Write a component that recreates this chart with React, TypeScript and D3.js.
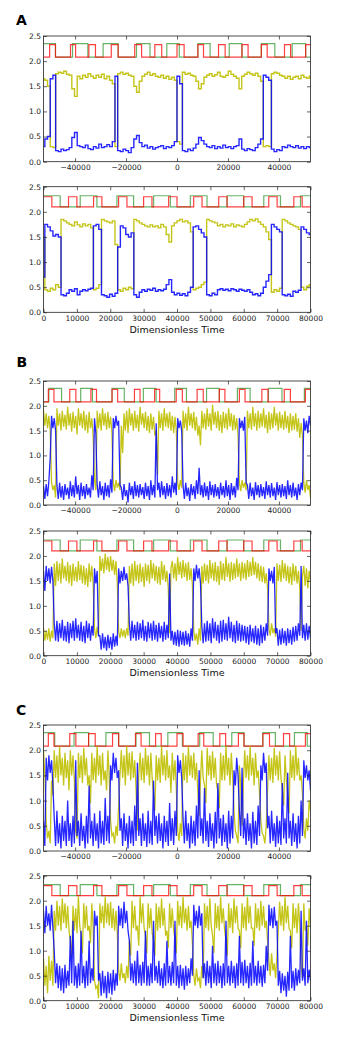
import React, { useEffect, useRef } from 'react'
import * as d3 from 'd3'

const W = 346
const H = 1037
const LEFT = 43.5
const RIGHT = 310.5

const yTicks = [0, 0.5, 1, 1.5, 2, 2.5]
const topTicks = [-40000, -20000, 0, 20000, 40000]
const bottomTicks = [0, 10000, 20000, 30000, 40000, 50000, 60000, 70000, 80000]
const topDomain = [-52400, 52400]
const bottomDomain = [0, 80000]

// input pulses, [start, end] of each high period
const aTopRed = [[-50000, -47700], [-41800, -39800], [-34600, -32000], [-25800, -23100], [-16600, -13900], [-8700, -6000], [0, 2800], [8200, 10400], [16300, 18900], [25500, 27900], [33100, 35400], [42200, 44600], [50500, 52400]]
const aTopGreen = [[-52400, -47700], [-41000, -35000], [-29000, -23100], [-15900, -10600], [-4000, 900], [8200, 13000], [20500, 25500], [33100, 38400], [45200, 50500]]
const bTopRed = [[-50500, -48300], [-42100, -39700], [-33800, -31600], [-25500, -23300], [-16700, -14500], [-8800, -6800], [-300, 2100], [7900, 10300], [16600, 18800], [24500, 26700], [33300, 35700], [42100, 44500], [50400, 52400]]
const bTopGreen = [[-50300, -45300], [-37800, -33200], [-25500, -20700], [-13200, -8200], [-900, 3700], [11600, 16600], [23700, 28700], [35900, 41200], [50000, 52400]]
const cTopRed = [[-50500, -48300], [-42100, -39700], [-34700, -32100], [-25300, -22900], [-16300, -14100], [-8400, -6200], [0, 2400], [8300, 10500], [16800, 19100], [24100, 26300], [33700, 36300], [41800, 44200], [50400, 52400]]
const cTopGreen = [[-52400, -48000], [-40400, -34700], [-27900, -22900], [-16100, -10800], [-3600, 2100], [8900, 14200], [21500, 26300], [33700, 38600], [46100, 51100]]
const bottomRed = [[0, 2500], [7500, 10000], [15000, 17500], [22500, 25000], [30000, 32500], [37500, 40000], [45000, 47500], [52500, 55000], [60000, 62500], [67500, 70000], [75000, 77500]]
const bottomGreen = [[0, 5000], [11000, 16000], [22000, 27000], [33000, 38000], [44000, 49000], [55000, 60000], [66000, 71000], [77000, 80000]]

// sampled traces, evenly spaced over each panel's time range
const aTopBlue = [
  .30, .45, .50, 1.65, 1.72, .22, .20, .25, .22, .24,
  .28, .48, .58, .32, .30, .28, .33, .26, .24, .30,
  .27, .35, .28, .30, .34, .30, .40, 1.70, .22, .20,
  .25, .22, .18, .28, .45, .52, .38, .30, .33, .27,
  .30, .25, .28, .30, .32, .26, .30, .28, .32, .40,
  1.70, 1.55, .22, .20, .25, .22, .27, .35, .48, .42,
  .35, .30, .28, .32, .26, .30, .27, .33, .28, .30,
  .26, .30, .32, .45, .25, .22, .26, .24, .22, .28,
  .35, .45, 1.72, 1.68, 1.62, .25, .20, .24, .22, .30,
  .28, .33, .30, .28, .32, .27, .30, .26, .30, .28,
]
const aTopYellow = [
  1.65, 1.62, 1.50, .30, .28, 1.75, 1.78, 1.76, 1.80, 1.74,
  1.72, 1.45, 1.30, 1.70, 1.65, 1.72, 1.68, 1.75, 1.70, 1.66,
  1.72, 1.68, 1.74, 1.65, 1.70, 1.62, 1.55, .30, 1.75, 1.78,
  1.74, 1.76, 1.72, 1.70, 1.50, 1.38, 1.60, 1.70, 1.74, 1.78,
  1.72, 1.75, 1.70, 1.68, 1.72, 1.66, 1.70, 1.64, 1.68, 1.62,
  .40, .35, 1.78, 1.74, 1.76, 1.72, 1.70, 1.60, 1.45, 1.55,
  1.68, 1.72, 1.75, 1.70, 1.73, 1.78, 1.70, 1.68, 1.72, 1.80,
  1.74, 1.70, 1.66, 1.45, 1.70, 1.74, 1.78, 1.75, 1.72, 1.76,
  1.70, 1.60, .30, .32, .30, 1.75, 1.78, 1.76, 1.72, 1.70,
  1.66, 1.70, 1.64, 1.68, 1.70, 1.65, 1.72, 1.68, 1.66, 1.70,
]
const aBottomBlue = [
  .70, 1.75, 1.70, 1.62, 1.52, 1.55, 1.50, .35, .33, .38,
  .45, .42, .47, .35, .42, .45, .43, .46, .48, 1.72,
  1.75, 1.65, .35, .33, .30, .36, .32, .38, 1.30, 1.72,
  1.68, 1.55, 1.50, 1.58, .35, .30, .40, .45, .42, .46,
  .44, .48, .42, .45, .43, .46, .55, .65, .40, .35,
  .38, .34, .37, .33, .40, .50, 1.70, 1.72, 1.65, 1.58,
  1.50, .35, .33, .38, .35, .45, .47, .44, .46, .43,
  .47, .45, .42, .46, .44, .42, .45, .40, .35, .37,
  .33, .38, .50, .62, .75, 1.75, 1.70, 1.65, 1.60, .35,
  .33, .36, .32, .42, .40, .44, 1.70, 1.65, 1.58, 1.55,
]
const aBottomYellow = [
  1.50, .45, .42, .48, .45, .55, .50, 1.85, 1.82, 1.78,
  1.75, 1.72, 1.80, 1.74, 1.70, 1.76, 1.72, 1.75, 1.68, .45,
  .48, .55, 1.85, 1.82, 1.80, 1.78, 1.82, 1.35, .45, .42,
  .48, .45, .50, .47, 1.85, 1.82, 1.78, 1.75, 1.72, 1.70,
  1.74, 1.70, 1.72, 1.68, 1.75, 1.70, 1.55, 1.40, 1.72, 1.78,
  1.82, 1.85, 1.80, 1.82, 1.78, 1.60, .45, .48, .50, .55,
  .60, 1.85, 1.82, 1.80, 1.78, 1.72, 1.75, 1.70, 1.74, 1.72,
  1.76, 1.70, 1.74, 1.72, 1.70, 1.75, 1.80, 1.85, 1.82, 1.86,
  1.80, 1.75, 1.70, 1.60, 1.45, .40, .45, .42, .48, 1.85,
  1.82, 1.78, 1.75, 1.72, 1.70, 1.65, .50, .45, .52, .55,
]
const bTopBlue = [
  .38, .12, .42, .18, .48, .95, 1.80, 1.55, 1.75, 1.50, .40, .12, .45, .15, .38, .10, .42, .20, .35, .12,
  .48, .18, .40, .15, .58, .22, .40, .10, .45, .18, .38, .12, .42, .20, .35, .15, .60, .30, 1.75, 1.45,
  .40, .15, .48, .20, .38, .10, .45, .18, .40, .15, .52, .25, 1.75, 1.55, 1.80, 1.60, 1.70, .40, .35, .10,
  .42, .18, .30, .05, .45, .20, .38, .12, .48, .18, .40, .15, .42, .20, .36, .12, .45, .18, .38, .10,
  .50, .20, .40, .15, 1.65, .30, .45, .15, .48, .20, .38, .12, .44, .18, .40, .15, .58, .25, .45, .20,
  1.75, 1.55, 1.70, 1.50, .40, .12, .45, .18, .35, .08, .42, .20, .38, .12, .50, .22, .75, .20, .40, .15,
  .45, .18, .38, .10, .48, .20, .40, .15, .42, .18, .36, .12, .45, .20, .38, .15, .50, .18, .40, .10,
  .44, .20, .38, .15, .55, .30, 1.75, 1.55, 1.70, 1.50, 1.78, .45, .40, .12, .45, .18, .35, .10, .46, .20,
  .40, .15, .42, .18, .36, .12, .48, .20, .40, .15, .44, .18, .35, .10, .46, .20, .40, .15, .42, .18,
  .38, .12, .50, .20, .40, .15, .45, .18, .35, .10, .42, .20, .45, .30, 1.75, 1.50, 1.70, 1.45, 1.80, 1.60,
]
const bTopYellow = [
  1.90, 1.60, 1.85, 1.55, 1.80, 1.50, .45, .30, .40, .15, 1.95, 1.60, 1.85, 1.50, 1.90, 1.58, 1.82, 1.52, 1.98, 1.60,
  1.85, 1.48, 1.88, 1.55, 1.80, 1.42, 1.95, 1.60, 1.85, 1.55, 1.90, 1.50, 1.82, 1.45, 1.88, 1.55, 1.75, 1.38, .50, .30,
  1.90, 1.55, 1.85, 1.50, 1.95, 1.60, 1.85, 1.52, 1.88, 1.55, 1.78, 1.45, .45, .28, .50, .35, .45, .30, 1.60, 1.05,
  1.85, 1.50, 1.90, 1.45, 1.95, 1.60, 1.85, 1.50, 1.90, 1.55, 1.82, 1.48, 1.98, 1.62, 1.85, 1.55, 1.88, 1.50, 1.80, 1.45,
  1.85, 1.52, 1.78, 1.40, 1.50, .60, 1.90, 1.55, 1.85, 1.50, 1.95, 1.58, 1.85, 1.55, 1.88, 1.50, 1.80, 1.45, 1.78, 1.50,
  .45, .30, .50, .35, 1.90, 1.55, 1.85, 1.50, 1.98, 1.60, 1.85, 1.55, 1.88, 1.50, 1.78, 1.40, 1.60, 1.20, 1.90, 1.55,
  1.85, 1.52, 1.95, 1.58, 1.85, 1.50, 2.02, 1.62, 1.88, 1.55, 1.90, 1.50, 1.82, 1.45, 1.88, 1.55, 1.85, 1.52, 1.95, 1.58,
  1.85, 1.50, 1.82, 1.52, 1.75, 1.40, .45, .28, .50, .35, .45, .30, 1.90, 1.55, 1.85, 1.52, 1.98, 1.58, 1.85, 1.50,
  1.90, 1.55, 1.85, 1.58, 1.95, 1.55, 1.82, 1.45, 1.88, 1.52, 1.85, 1.55, 1.98, 1.60, 1.85, 1.50, 1.88, 1.55, 1.82, 1.52,
  1.90, 1.55, 1.80, 1.45, 1.85, 1.50, 1.80, 1.52, 1.85, 1.48, 1.75, 1.35, 1.65, 1.40, .45, .25, .50, .30, .40, .15,
]
const bBottomBlue = [
  1.70, 1.30, 1.80, 1.50, 1.75, 1.45, 1.78, 1.50, .65, .30, .70, .28, .65, .35, .72, .30, .60, .28, .68, .25,
  .65, .35, .70, .30, .75, .35, .62, .30, .68, .28, .60, .25, .70, .35, .65, .30, .60, .40, 1.75, 1.45,
  1.70, .40, .40, .12, .45, .15, .38, .10, .42, .15, .38, .12, .45, .18, .40, .20, 1.75, 1.45, 1.70, 1.50,
  1.78, 1.52, 1.65, 1.40, .65, .30, .70, .35, .62, .30, .68, .32, .65, .35, .72, .30, .60, .28, .68, .35,
  .65, .30, .70, .32, .62, .28, .66, .35, .60, .28, .68, .32, .62, .35, 1.65, .30, .50, .22, .48, .20,
  .52, .18, .50, .22, .48, .20, .50, .22, .45, .18, .55, .30, 1.75, 1.50, 1.82, 1.55, 1.75, 1.45, .60, .25,
  .65, .28, .70, .30, .65, .25, .75, .35, .68, .30, .62, .25, .70, .28, .72, .32, .65, .30, .78, .35,
  .68, .28, .62, .25, .70, .30, .65, .28, .62, .30, .60, .25, .58, .22, .62, .28, .55, .25, .60, .22,
  .55, .20, .62, .25, .58, .30, .65, .40, 1.75, 1.50, 1.70, 1.45, 1.78, .45, .55, .20, .52, .22, .55, .25,
  .50, .20, .55, .25, .52, .22, .58, .28, .60, .30, .65, .40, 1.80, .35, .62, .30, .65, .32, .60, .35,
]
const bBottomYellow = [
  .55, .30, .50, .32, .55, .28, .50, .35, 1.85, 1.40, 1.90, 1.50, 1.85, 1.45, 1.95, 1.55, 1.80, 1.50, 1.88, 1.45,
  1.82, 1.40, 1.85, 1.50, 1.78, 1.48, 1.90, 1.52, 1.82, 1.45, 1.80, 1.42, 1.75, 1.38, 1.85, 1.48, 1.80, 1.45, .55, .35,
  .58, .40, 2.00, 1.70, 1.95, 1.65, 2.05, 1.72, 1.98, 1.68, 2.00, 1.70, 1.92, 1.62, 1.90, 1.45, .50, .35, .55, .38,
  .52, .35, .55, .40, 1.80, 1.45, 1.85, 1.40, 1.90, 1.50, 1.82, 1.45, 1.85, 1.48, 1.78, 1.38, 1.85, 1.50, 1.82, 1.45,
  1.92, 1.55, 1.85, 1.50, 1.80, 1.45, 1.78, 1.42, 1.90, 1.52, 1.82, 1.48, 1.70, 1.35, .45, 1.75, 1.90, 1.55, 1.85, 1.50,
  1.98, 1.62, 1.88, 1.55, 1.92, 1.58, 1.85, 1.50, 1.88, 1.52, 1.75, 1.40, .50, .30, .45, .22, .55, .30, 1.80, 1.45,
  1.85, 1.50, 1.82, 1.45, 1.92, 1.55, 1.85, 1.50, 1.88, 1.48, 1.80, 1.42, 1.90, 1.52, 1.85, 1.50, 1.98, 1.58, 1.85, 1.48,
  1.88, 1.52, 1.85, 1.55, 1.95, 1.58, 1.85, 1.50, 1.88, 1.55, 1.85, 1.52, 1.92, 1.58, 1.88, 1.60, 1.98, 1.62, 1.88, 1.55,
  1.85, 1.50, 1.80, 1.48, 1.78, 1.45, 1.65, 1.35, .55, .40, .65, .45, .55, .38, 1.85, 1.50, 1.82, 1.48, 1.92, 1.55,
  1.85, 1.50, 1.80, 1.45, 1.78, 1.42, 1.85, 1.50, 1.80, 1.45, 1.70, 1.35, .50, 1.60, 1.80, 1.40, 1.75, 1.35, 1.70, 1.50,
]
const cTopBlue = [
  .60, .10, 1.85, 1.40, 1.90, 1.55, 1.80, 1.30, .65, .10, .80, .15, .55, .05, .70, .20, .60, .10, 1.00, .20,
  .55, .08, .70, .15, 1.80, .30, .60, .10, .75, .20, .50, .05, .70, .15, 1.30, .25, .60, .10, .75, .20,
  .55, .05, .80, .15, .60, .12, 1.05, .20, .70, .15, 1.70, 1.40, 1.95, 1.55, 1.85, 1.45, 1.60, .40, .65, .10,
  .75, .20, .55, .05, .70, .15, .60, .10, .90, .20, 1.75, .30, .65, .10, .75, .20, .55, .08, .80, .15,
  .60, .12, 1.40, .30, .70, .15, .75, .20, .55, .05, .70, .18, .60, .10, .95, .20, .65, .12, .80, .30,
  1.90, 1.55, 1.80, 1.45, .65, .15, .80, .20, .55, .05, .70, .15, .60, .10, .90, .25, 1.60, .30, .65, .15,
  1.25, .20, .60, .08, .75, .20, .55, .05, .78, .15, 1.35, .25, .65, .10, .72, .18, .55, .05, .80, .15,
  .70, .25, 1.60, 1.30, 1.85, 1.50, .80, .30, 1.65, .25, .65, .12, .75, .20, .55, .05, .78, .15, .60, .12,
  .90, .30, 1.70, 1.40, 1.95, 1.55, 1.75, .45, .70, .15, .80, .20, .55, .08, .70, .15, .60, .12, 1.35, .25,
  .65, .15, 1.55, .25, .60, .10, .75, .18, .55, .05, .70, .15, 1.00, .30, 1.80, 1.45, 1.70, 1.40, 1.60, 1.20,
]
const cTopYellow = [
  2.00, 1.50, .60, .25, .40, .15, 1.40, 1.10, 2.00, 1.45, 1.90, 1.35, 2.08, 1.50, 1.85, 1.30, 1.95, 1.45, 1.80, 1.20,
  2.00, 1.50, 1.90, 1.40, .40, .25, 1.95, 1.45, 1.90, 1.35, 2.05, 1.50, 1.85, 1.30, 1.50, .95, 1.95, 1.40, 1.85, 1.35,
  2.08, 1.50, 1.90, 1.30, 1.95, 1.40, 1.60, 1.20, 2.00, 1.45, .60, .30, .35, .15, .50, .30, .90, 1.50, 2.00, 1.45,
  1.90, 1.30, 2.08, 1.50, 1.95, 1.40, 1.98, 1.45, 1.80, 1.20, .40, 1.50, 1.95, 1.40, 1.85, 1.35, 2.05, 1.50, 1.90, 1.30,
  1.95, 1.45, 1.10, .80, 1.90, 1.40, 1.85, 1.35, 2.08, 1.50, 1.90, 1.40, 2.00, 1.45, 1.70, 1.15, 1.95, 1.40, 1.80, 1.25,
  .40, .20, .55, .30, 1.95, 1.40, 1.90, 1.35, 2.08, 1.50, 1.90, 1.45, 1.95, 1.40, 1.75, 1.20, .70, 1.40, 2.00, 1.45,
  1.30, .95, 2.05, 1.50, 1.90, 1.40, 1.98, 1.45, 1.85, 1.30, 1.20, .85, 1.95, 1.40, 1.90, 1.40, 2.08, 1.50, 1.85, 1.30,
  1.95, 1.45, .80, .40, .30, .15, 1.70, 1.30, .50, 1.40, 2.00, 1.45, 1.90, 1.40, 2.08, 1.50, 1.85, 1.30, 1.95, 1.45,
  1.60, 1.15, .60, .35, .30, .15, .50, 1.20, 1.90, 1.40, 1.85, 1.35, 2.05, 1.50, 1.90, 1.40, 1.98, 1.45, 1.20, .90,
  1.90, 1.40, 1.10, .75, 2.00, 1.45, 1.90, 1.40, 2.08, 1.50, 1.85, 1.40, 1.50, 1.15, .45, .25, .65, .40, 1.00, .80,
]
const cBottomBlue = [
  1.80, 1.35, 1.90, 1.50, 1.75, 1.40, 1.92, 1.45, 1.00, .35, .75, .25, .70, .20, .65, .15, .72, .25, .60, .30,
  1.30, .35, 1.60, .30, .70, .25, .75, .30, 1.40, .35, .70, .25, .80, .30, 1.20, .35, .65, .40, 1.80, 1.50,
  1.70, .40, .55, .10, .60, .15, .50, .05, .58, .15, .55, .12, .62, .20, .55, .30, 1.90, 1.50, 1.85, 1.45,
  1.98, 1.55, 1.80, 1.40, 1.20, .40, .75, .35, .80, .30, 1.00, .35, .72, .30, .78, .35, 1.40, .30, .70, .30,
  .75, .35, 1.60, .40, .70, .35, .80, .30, .65, .25, .75, .30, 1.20, .35, .70, .30, .78, .35, 1.60, .30,
  .70, .25, .72, .30, .65, .22, .70, .30, .65, .35, .85, .50, 1.92, 1.50, 1.80, 1.45, 1.90, 1.50, 1.75, .45,
  .75, .30, .80, .35, .70, .25, 1.10, .35, .75, .30, .80, .35, .70, .25, .75, .30, 1.60, .35, .70, .30,
  .80, .35, .70, .25, .75, .30, 1.30, .35, .78, .30, .82, .35, .70, .25, .76, .30, 1.20, .35, .70, .30,
  .80, .35, .70, .28, .72, .35, 1.10, .60, 1.92, 1.50, 1.85, 1.45, 1.88, 1.50, 1.60, .30, .60, .15, .55, .20,
  .50, .08, .58, .20, 1.30, .25, .60, .20, .65, .30, .62, .35, 1.80, .40, .65, .30, 1.60, .35, .62, .40,
]
const cBottomYellow = [
  .85, .30, .70, .15, .90, .40, .80, .30, 1.80, 1.40, 2.00, 1.50, 1.90, 1.40, 2.05, 1.55, 1.95, 1.45, 1.90, 1.40,
  1.20, .85, 1.90, 1.40, 1.85, 1.35, 2.08, 1.50, 1.30, .95, 1.95, 1.45, 1.90, 1.40, 1.50, 1.15, 1.95, 1.45, .40, .25,
  .30, .05, 1.95, 1.55, 1.90, 1.45, 2.08, 1.55, 1.95, 1.50, 1.98, 1.45, 1.85, 1.40, 1.80, 1.35, .60, .40, .75, .45,
  .55, .35, .70, .45, 1.20, .90, 2.00, 1.45, 1.90, 1.40, 1.50, 1.10, 2.08, 1.55, 1.95, 1.45, 1.30, .95, 1.95, 1.45,
  1.85, 1.35, 1.20, .90, 1.95, 1.40, 1.88, 1.45, 2.05, 1.50, 1.85, 1.30, 1.40, 1.05, 1.95, 1.45, 1.85, 1.40, 1.25, .95,
  2.00, 1.50, 1.90, 1.45, 2.08, 1.55, 1.85, 1.40, 1.90, 1.45, 1.60, 1.15, .50, .30, .65, .40, .45, .25, .70, .45,
  1.95, 1.45, 1.90, 1.40, 2.05, 1.50, 1.30, .95, 1.95, 1.45, 1.90, 1.40, 2.08, 1.55, 1.85, 1.40, 1.20, .90, 1.95, 1.45,
  1.85, 1.35, 2.05, 1.55, 1.90, 1.45, 1.40, 1.05, 1.95, 1.45, 1.88, 1.40, 2.08, 1.55, 1.90, 1.45, 1.45, 1.10, 1.95, 1.45,
  1.85, 1.40, 2.00, 1.50, 1.90, 1.45, 1.60, 1.20, .80, .50, .95, .60, .75, .45, .90, 1.40, 1.98, 1.50, 1.90, 1.40,
  2.08, 1.55, 1.90, 1.45, 1.40, 1.05, 1.95, 1.45, 1.85, 1.35, 1.95, 1.50, .70, .45, 1.95, 1.40, 1.50, 1.10, 1.85, 1.50,
]

const topLevels = [2.08, 2.34]
const bottomLevels = [2.1, 2.31]

function stepPoints(intervals, domain, lo, hi) {
  const pts = []
  const startsHigh = intervals.length > 0 && intervals[0][0] <= domain[0]
  pts.push([domain[0], startsHigh ? hi : lo])
  intervals.forEach(([s, e]) => {
    if (s > domain[0]) pts.push([s, hi])
    if (e < domain[1]) pts.push([e, lo])
  })
  pts.push([domain[1], pts[pts.length - 1][1]])
  return pts
}

function Panel({ y0, y1, domain, ticks, blue, yellow, red, green, levels, xlabel, id, stepped }) {
  const ref = useRef(null)

  useEffect(() => {
    const g = d3.select(ref.current)
    g.selectAll('*').remove()

    const x = d3.scaleLinear().domain(domain).range([LEFT, RIGHT])
    const y = d3.scaleLinear().domain([0, 2.5]).range([y1, y0])

    g.append('clipPath')
      .attr('id', id)
      .append('rect')
      .attr('x', LEFT)
      .attr('y', y0)
      .attr('width', RIGHT - LEFT)
      .attr('height', y1 - y0)

    const plot = g.append('g').attr('clip-path', `url(#${id})`)

    const timed = (arr) =>
      arr.map((v, i) => [domain[0] + (i * (domain[1] - domain[0])) / (arr.length - 1), v])

    // the quieter panels jump between states, the noisy ones are dense enough as plain lines
    const line = d3.line().x((d) => x(d[0])).y((d) => y(d[1])).curve(stepped ? d3.curveStep : d3.curveLinear)
    const step = d3.line().x((d) => x(d[0])).y((d) => y(d[1])).curve(d3.curveStepAfter)
    const traceWidth = stepped ? 1.4 : 1.3

    plot.append('path')
      .attr('d', step(stepPoints(green, domain, levels[0], levels[1] + 0.01)))
      .attr('fill', 'none')
      .attr('stroke', '#008000')
      .attr('stroke-opacity', 0.6)
      .attr('stroke-width', 1.2)

    plot.append('path')
      .attr('d', step(stepPoints(red, domain, levels[0], levels[1] - 0.01)))
      .attr('fill', 'none')
      .attr('stroke', '#ff0000')
      .attr('stroke-opacity', 0.75)
      .attr('stroke-width', 1.2)

    plot.append('path')
      .attr('d', line(timed(yellow)))
      .attr('fill', 'none')
      .attr('stroke', '#bfbf00')
      .attr('stroke-opacity', 0.9)
      .attr('stroke-width', traceWidth)

    plot.append('path')
      .attr('d', line(timed(blue)))
      .attr('fill', 'none')
      .attr('stroke', '#0000ff')
      .attr('stroke-opacity', 0.85)
      .attr('stroke-width', traceWidth)

    // frame
    g.append('rect')
      .attr('x', LEFT)
      .attr('y', y0)
      .attr('width', RIGHT - LEFT)
      .attr('height', y1 - y0)
      .attr('fill', 'none')
      .attr('stroke', '#222')
      .attr('stroke-width', 0.8)

    const styleAxis = (sel) => {
      sel.select('.domain').remove()
      sel.selectAll('line').attr('stroke', '#222').attr('stroke-width', 0.7)
      sel.selectAll('text')
        .attr('fill', '#222')
        .attr('font-family', 'DejaVu Sans, sans-serif')
        .attr('font-size', 7.5)
    }

    g.append('g')
      .attr('transform', `translate(0,${y1})`)
      .call(d3.axisBottom(x).tickValues(ticks).tickFormat(d3.format('d')).tickSizeInner(-3.5).tickSizeOuter(0).tickPadding(3))
      .call(styleAxis)
    g.append('g')
      .attr('transform', `translate(0,${y0})`)
      .call(d3.axisTop(x).tickValues(ticks).tickFormat(() => '').tickSizeInner(-3.5).tickSizeOuter(0))
      .call(styleAxis)
    g.append('g')
      .attr('transform', `translate(${LEFT},0)`)
      .call(d3.axisLeft(y).tickValues(yTicks).tickFormat(d3.format('.1f')).tickSizeInner(-3.5).tickSizeOuter(0).tickPadding(2.5))
      .call(styleAxis)
    g.append('g')
      .attr('transform', `translate(${RIGHT},0)`)
      .call(d3.axisRight(y).tickValues(yTicks).tickFormat(() => '').tickSizeInner(-3.5).tickSizeOuter(0))
      .call(styleAxis)

    if (xlabel) {
      g.append('text')
        .attr('x', (LEFT + RIGHT) / 2)
        .attr('y', y1 + 20.5)
        .attr('text-anchor', 'middle')
        .attr('font-family', 'DejaVu Sans, sans-serif')
        .attr('font-size', 9.5)
        .attr('fill', '#111')
        .text(xlabel)
    }
  }, [y0, y1, domain, ticks, blue, yellow, red, green, levels, xlabel, id, stepped])

  return <g ref={ref}></g>
}

const letterStyle = { fontFamily: 'DejaVu Sans, sans-serif', fontWeight: 'bold', fontSize: 14 }

export default function App() {
  return (
    <svg width={W} height={H} style={{ position: 'absolute', left: 0, top: 0, background: '#fff' }}>
      <text x={16} y={25} style={letterStyle}>A</text>
      <Panel id="aTop" stepped y0={36} y1={161.7} domain={topDomain} ticks={topTicks} blue={aTopBlue} yellow={aTopYellow} red={aTopRed} green={aTopGreen} levels={topLevels} />
      <Panel id="aBottom" stepped y0={186.7} y1={312.3} domain={bottomDomain} ticks={bottomTicks} blue={aBottomBlue} yellow={aBottomYellow} red={bottomRed} green={bottomGreen} levels={bottomLevels} xlabel="Dimensionless Time" />

      <text x={16.5} y={367} style={letterStyle}>B</text>
      <Panel id="bTop" y0={381} y1={505} domain={topDomain} ticks={topTicks} blue={bTopBlue} yellow={bTopYellow} red={bTopRed} green={bTopGreen} levels={topLevels} />
      <Panel id="bBottom" y0={531} y1={655.7} domain={bottomDomain} ticks={bottomTicks} blue={bBottomBlue} yellow={bBottomYellow} red={bottomRed} green={bottomGreen} levels={bottomLevels} xlabel="Dimensionless Time" />

      <text x={16} y={715} style={letterStyle}>C</text>
      <Panel id="cTop" y0={725} y1={851} domain={topDomain} ticks={topTicks} blue={cTopBlue} yellow={cTopYellow} red={cTopRed} green={cTopGreen} levels={topLevels} />
      <Panel id="cBottom" y0={875.7} y1={1000.7} domain={bottomDomain} ticks={bottomTicks} blue={cBottomBlue} yellow={cBottomYellow} red={bottomRed} green={bottomGreen} levels={bottomLevels} xlabel="Dimensionless Time" />
    </svg>
  )
}
